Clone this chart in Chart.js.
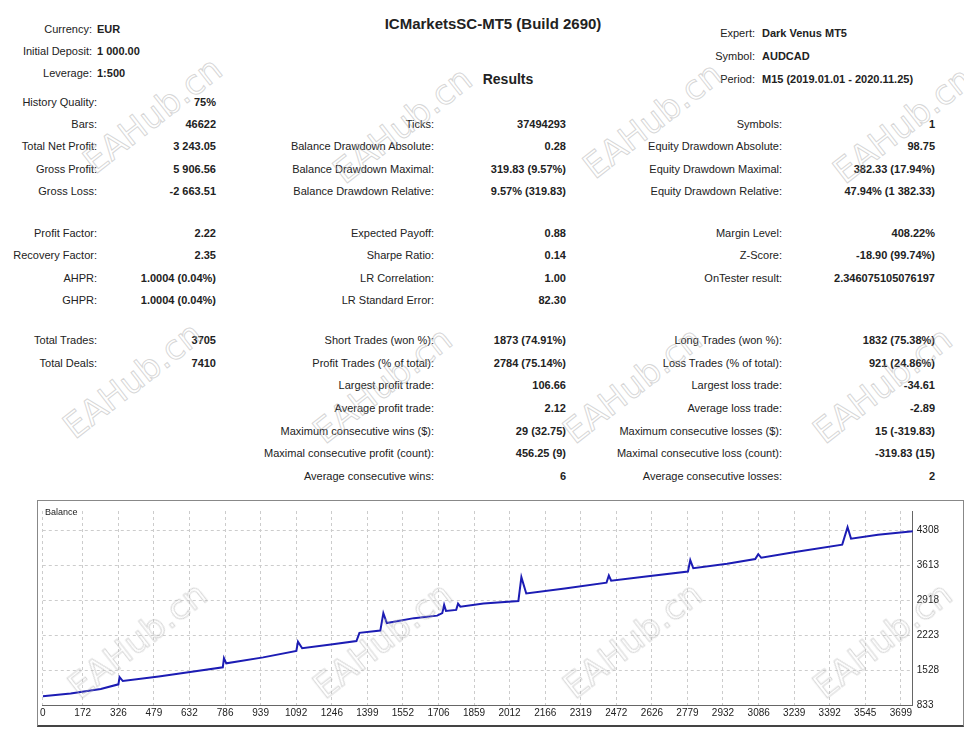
<!DOCTYPE html>
<html><head><meta charset="utf-8">
<script src="https://cdn.jsdelivr.net/npm/chart.js@4"></script>
<style>
body{margin:0;width:964px;height:733px;background:#fff;font-family:"Liberation Sans",Arial,sans-serif;font-size:11px;color:#222;position:relative;overflow:hidden}
.t{position:absolute;white-space:nowrap}
.b{font-weight:bold}
.wm{position:absolute;font-size:34px;color:rgba(255,255,255,0);-webkit-text-stroke:1px rgba(180,180,180,0.55);transform:rotate(-38deg);white-space:nowrap;font-family:"DejaVu Sans";pointer-events:none;z-index:5}
#box{position:absolute;left:37px;top:500px;width:925px;height:224px;border:1px solid #888;border-bottom:2px solid #444}
</style></head><body>
<div id="txt"></div>
<div id="box"><canvas id="c" width="925" height="224"></canvas>
<div class="t" style="left:7px;top:6px;font-size:9px">Balance</div></div>
<script>
// balance curve, [trade, balance]
const balance = [
[0,1009],[120,1060],[250,1150],[326,1244],[331,1387],[345,1309],[500,1400],[650,1500],[776,1583],[781,1765],[791,1661],
[950,1780],[1093,1909],[1100,2091],[1118,1961],[1250,2040],[1352,2104],[1365,2267],[1455,2313],[1468,2659],[1483,2463],
[1600,2560],[1700,2610],[1722,2659],[1730,2822],[1738,2704],[1782,2724],[1790,2848],[1800,2789],[1900,2850],[2050,2900],
[2063,3376],[2084,3050],[2250,3150],[2430,3265],[2440,3408],[2450,3304],[2600,3390],[2781,3487],[2791,3715],[2804,3552],
[2950,3640],[3071,3734],[3084,3832],[3097,3760],[3250,3880],[3446,4021],[3469,4367],[3484,4139],[3600,4220],[3751,4289]
];
const xTickLabels = [0,172,326,479,632,786,939,1092,1246,1399,1552,1706,1859,2012,2166,2319,2472,2626,2779,2932,3086,3239,3392,3545,3699];
const yTickLabels = [833,1528,2223,2918,3613,4308];

const col1 = [['History Quality:','75%'],['Bars:','46622'],['Total Net Profit:','3 243.05'],['Gross Profit:','5 906.56'],['Gross Loss:','-2 663.51'],
 null,['Profit Factor:','2.22'],['Recovery Factor:','2.35'],['AHPR:','1.0004 (0.04%)'],['GHPR:','1.0004 (0.04%)'],null,['Total Trades:','3705'],['Total Deals:','7410']];
const col2 = [null,['Ticks:','37494293'],['Balance Drawdown Absolute:','0.28'],['Balance Drawdown Maximal:','319.83 (9.57%)'],['Balance Drawdown Relative:','9.57% (319.83)'],
 null,['Expected Payoff:','0.88'],['Sharpe Ratio:','0.14'],['LR Correlation:','1.00'],['LR Standard Error:','82.30'],null,
 ['Short Trades (won %):','1873 (74.91%)'],['Profit Trades (% of total):','2784 (75.14%)'],['Largest profit trade:','106.66'],['Average profit trade:','2.12'],
 ['Maximum consecutive wins ($):','29 (32.75)'],['Maximal consecutive profit (count):','456.25 (9)'],['Average consecutive wins:','6']];
const col3 = [null,['Symbols:','1'],['Equity Drawdown Absolute:','98.75'],['Equity Drawdown Maximal:','382.33 (17.94%)'],['Equity Drawdown Relative:','47.94% (1 382.33)'],
 null,['Margin Level:','408.22%'],['Z-Score:','-18.90 (99.74%)'],['OnTester result:','2.346075105076197'],null,null,
 ['Long Trades (won %):','1832 (75.38%)'],['Loss Trades (% of total):','921 (24.86%)'],['Largest loss trade:','-34.61'],['Average loss trade:','-2.89'],
 ['Maximum consecutive losses ($):','15 (-319.83)'],['Maximal consecutive loss (count):','-319.83 (15)'],['Average consecutive losses:','2']];

const rowY = [103,125,147,170,192,null,234,256,279,301,null,341,364,386,409,432,454,477];
let html = '';
function put(x, y, s, cls, right) {
  html += `<div class="t ${cls||''}" style="${right ? 'right:' + (964 - x) : 'left:' + x}px;top:${y - 7}px">${s}</div>`;
}
function column(rows, labR, valR) {
  rows.forEach((r, i) => { if (!r) return; const y = rowY[i]; put(labR, y, r[0], '', true); put(valR, y, r[1], 'b', true); });
}
column(col1, 97, 216); column(col2, 434, 566); column(col3, 782, 935);
put(92,30,'Currency:','',true); put(97,30,'EUR','b');
put(92,52,'Initial Deposit:','',true); put(97,52,'1 000.00','b');
put(92,74,'Leverage:','',true); put(97,74,'1:500','b');
put(755,34,'Expert:','',true); put(762,34,'Dark Venus MT5','b');
put(755,57,'Symbol:','',true); put(762,57,'AUDCAD','b');
put(755,80,'Period:','',true); put(762,80,'M15 (2019.01.01 - 2020.11.25)','b');
html += '<div class="t b" style="left:0;width:986px;text-align:center;top:15px;font-size:15px">ICMarketsSC-MT5 (Build 2690)</div>';
html += '<div class="t b" style="left:0;width:1016px;text-align:center;top:71px;font-size:14px">Results</div>';
[[70,95],[320,105],[570,100],[820,105],[50,360],[300,365],[550,365],[800,365],[55,620],[300,620],[550,620],[800,620]].forEach(p => {
  html += `<div class="wm" style="left:${p[0]}px;top:${p[1]}px">EAHub.cn</div>`;
});
document.getElementById('txt').innerHTML = html;

new Chart(document.getElementById('c'), {
  type: 'line',
  data: { datasets: [{ data: balance.map(p => ({x: p[0], y: p[1]})), borderColor: '#1c1cb4', borderWidth: 2, pointRadius: 0, tension: 0 }] },
  options: {
    responsive: false, animation: false,
    layout: { padding: { left: 4, top: 4, right: 20, bottom: 4 } },
    plugins: { legend: { display: false }, tooltip: { enabled: false } },
    scales: {
      x: { type: 'linear', min: 0, max: 3750,
        afterBuildTicks: a => { a.ticks = xTickLabels.map(v => ({value: v})); },
        ticks: { autoSkip: false, maxRotation: 0, color: '#222', font: {size: 10}, padding: 2, callback: v => String(v) },
        grid: { color: '#ccc', drawTicks: false }, border: { dash: [3,3], color: '#666' } },
      y: { position: 'right', min: 833, max: 4690,
        afterBuildTicks: a => { a.ticks = yTickLabels.map(v => ({value: v})); },
        ticks: { color: '#222', font: {size: 10}, padding: 4, callback: v => String(v) },
        grid: { color: '#ccc', drawTicks: false }, border: { dash: [3,3], color: '#666' } }
    }
  }
});
</script>
</body></html>
